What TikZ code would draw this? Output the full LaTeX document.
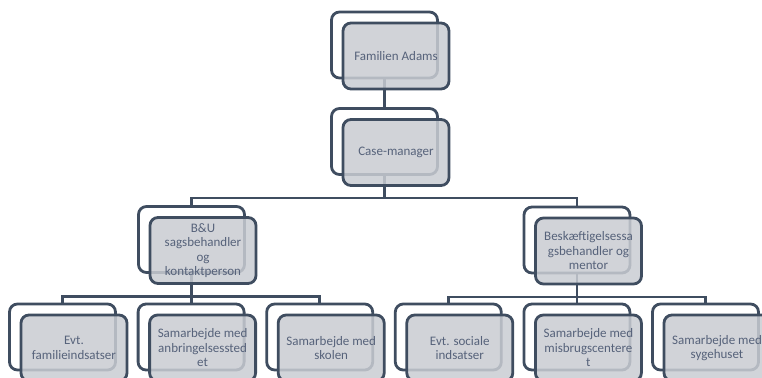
\documentclass[tikz,border=0pt]{standalone}
\usepackage{fontspec}
\setmainfont{Carlito}
\definecolor{frameline}{HTML}{3F4D60}
\definecolor{boxfill}{HTML}{C9CCD2}
\definecolor{boxtext}{HTML}{56627A}
\begin{document}
\begin{tikzpicture}[x=1pt, y=-1pt, node distance=128.6pt,
    back/.style={draw=frameline, line width=2.8pt, rounded corners=8pt, fill=white,
      minimum width=106pt, minimum height=66pt, inner sep=0pt},
    front/.style={back, fill=boxfill, fill opacity=0.85, text opacity=1, text=boxtext,
      align=center, font=\fontsize{13}{14.5}\selectfont, xshift=11.5pt, yshift=-11pt},
    link/.style={draw=frameline, line width=2.8pt}]
    \useasboundingbox (0,0) rectangle (762,377);
    % back frames
    \node (famB) [back] at (384.5,45) {};
    \node (caseB) [back] at (384.5,141.5) {};
    \node (buB) [back] at (191.5,239.5) {};
    \node (beskB) [back] at (577,240) {};
    \node (evtB) [back] at (62.5,337) {};
    \node (anbB) [back, right of=evtB] {};
    \node (skoB) [back, right of=anbB] {};
    \node (socB) [back, right of=skoB] {};
    \node (misB) [back, right of=socB] {};
    \node (sygB) [back, right of=misB] {};
    % connectors
    \draw[link] (famB.south) -- (caseB.north);
    \draw[link] (caseB.south) -- ++(0,22) -| (buB.north);
    \draw[link] (caseB.south) -- ++(0,22) -| (beskB.north);
    \draw[link] (buB.south) -- ++(0,22.5) -| (evtB.north);
    \draw[link] (buB.south) -- ++(0,22.5) -| (anbB.north);
    \draw[link] (buB.south) -- ++(0,22.5) -| (skoB.north);
    \draw[link] (beskB.south) -- ++(0,22.5) -| (socB.north);
    \draw[link] (beskB.south) -- ++(0,22.5) -| (misB.north);
    \draw[link] (beskB.south) -- ++(0,22.5) -| (sygB.north);
    % front boxes
    \node (fam) [front] at (famB) {Familien Adams};
    \node (case) [front] at (caseB) {Case-manager};
    \node (bu) [front] at (buB) {B\&U\\sagsbehandler\\og\\kontaktperson};
    \node (besk) [front] at (beskB) {Beskæftigelsessa\\gsbehandler og\\mentor};
    \node (evt) [front] at (evtB) {Evt.\\familieindsatser};
    \node (anb) [front] at (anbB) {Samarbejde med\\anbringelsessted\\et};
    \node (sko) [front] at (skoB) {Samarbejde med\\skolen};
    \node (soc) [front] at (socB) {Evt. sociale\\indsatser};
    \node (mis) [front] at (misB) {Samarbejde med\\misbrugscentere\\t};
    \node (syg) [front] at (sygB) {Samarbejde med\\sygehuset};
  \end{tikzpicture}
\end{document}
